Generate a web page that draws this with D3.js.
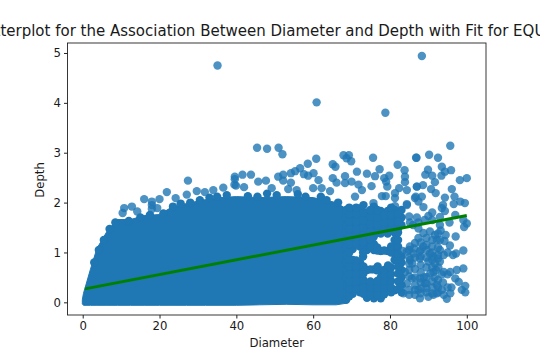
<!DOCTYPE html>
<meta charset="utf-8">
<style type="text/css">

body { margin: 0; background: #fff; }
svg { display: block; }
text { font-family: "DejaVu Sans", sans-serif; fill: #1a1a1a; }

.tick line { stroke: #222; }
.axis .domain { display: none; }

.dot {
    fill: #1f77b4;
    fill-opacity: 0.8;
}

.dense {
    fill: #1f77b4;
}

.mass {
    fill: #1f77b4;
    stroke: #1f77b4;
    stroke-width: 1;
    stroke-linejoin: round;
}

.fit {
    fill: none;
    stroke: #008000;
    stroke-width: 3;
}

</style>
<body>
</body>

<script src="https://d3js.org/d3.v7.min.js"></script>
<script>

var titleText = "Scatterplot for the Association Between Diameter and Depth with Fit for EQUATOR"
  , xLabel = "Diameter"
  , yLabel = "Depth";

var xTicks = [0, 20, 40, 60, 80, 100]
  , yTicks = [0, 1, 2, 3, 4, 5];

// the saturated part of the cloud, too many overlapping craters to read one by one:
// read as an outline, top and bottom depth at each diameter
var massDiameter = [-0.1, 0.2, 2, 3.7, 6.3, 9, 12.5, 16, 20, 23, 27, 32, 36, 40, 46, 53, 60, 66, 68.5];
var massTop = [0.05, 0.18, 0.66, 1.08, 1.42, 1.66, 1.66, 1.74, 1.76, 1.9, 1.98, 2.06, 2.1, 2.12, 2.1, 2.12, 2.1, 2.0, 1.88];
var massBottom = [-0.03, -0.06, -0.06, -0.06, -0.06, -0.06, -0.06, -0.06, -0.06, -0.06, -0.06, -0.06, -0.06, -0.06, -0.05, -0.04, -0.05, -0.05, -0.02];

// where the cloud is nearly solid but still has holes: placed to leave the holes open,
// overlap there reads as full colour so these are drawn opaque
var denseDiameter = [
    68.6, 68.6, 68.6, 68.6, 68.6, 68.6, 68.6, 68.6, 68.6, 68.6, 68.6, 68.6, 68.6,
    70.3, 70.3, 70.3, 70.3, 70.3, 70.3, 70.3, 70.3, 70.3, 70.3, 70.3, 70.3,
    72.2, 72.2, 72.2, 72.2, 72.2, 72.2, 72.2, 72.2, 72.2, 72.2, 72.2,
    74, 74, 74, 74, 74, 74, 74, 74, 74, 74,
    75.8, 75.8, 75.8, 75.8, 75.8, 75.8, 75.8, 75.8, 75.8, 75.8, 75.8,
    77.6, 77.6, 77.6, 77.6, 77.6, 77.6, 77.6, 77.6, 77.6, 77.6,
    79.4, 79.4, 79.4, 79.4, 79.4, 79.4, 79.4, 79.4, 79.4,
    81.2, 81.2, 81.2, 81.2, 81.2, 81.2, 81.2, 81.2, 81.2,
    83, 83, 83, 83, 83, 83, 83, 83, 83,
    69.4, 69.4, 69.4, 69.4, 69.4, 69.4, 69.4, 69.4, 69.4, 69.4, 69.4, 69.4, 69.4,
    71.2, 71.2, 71.2, 71.2, 71.2, 71.2, 71.2, 71.2, 71.2, 71.2, 71.2,
    73.1, 73.1, 73.1, 73.1, 73.1, 73.1, 73.1, 73.1, 73.1, 73.1, 73.1, 73.1,
    74.9, 74.9, 74.9, 74.9, 74.9, 74.9, 74.9, 74.9, 74.9, 74.9,
    76.7, 76.7, 76.7, 76.7, 76.7, 76.7, 76.7, 76.7, 76.7, 76.7,
    78.5, 78.5, 78.5, 78.5, 78.5, 78.5, 78.5, 78.5, 78.5,
    80.3, 80.3, 80.3, 80.3, 80.3, 80.3, 80.3, 80.3, 80.3, 80.3, 80.3,
    82.1, 82.1, 82.1, 82.1, 82.1, 82.1, 82.1, 82.1, 82.1, 82.1, 82.1, 82.1,
    73, 73, 76.8, 79.5,
    3, 4.2, 5.5, 7, 8.5, 12, 15, 17.5, 21, 23.5, 25.5, 28, 30.5, 33, 35, 37.5,
    43, 45.5, 48, 50.5, 56, 58, 62, 63.5, 66.5
];
var denseDepth = [
    0.05, 0.2, 0.35, 0.5, 0.65, 0.8, 0.95, 1.1, 1.25, 1.4, 1.55, 1.7, 1.85,
    0.17, 0.3, 0.45, 0.6, 0.75, 0.85, 1.07, 1.25, 1.4, 1.55, 1.7, 1.82,
    0.2, 0.35, 0.5, 0.65, 0.8, 1.12, 1.27, 1.42, 1.57, 1.72, 1.88,
    0.09, 0.25, 0.38, 0.65, 1.05, 1.2, 1.35, 1.5, 1.65, 1.8,
    0.08, 0.22, 0.36, 0.66, 1.05, 1.17, 1.32, 1.47, 1.62, 1.77, 1.92,
    0.08, 0.22, 0.36, 0.5, 0.63, 1.03, 1.38, 1.53, 1.68, 1.83,
    0.23, 0.37, 0.5, 0.63, 1.03, 1.38, 1.53, 1.68, 1.83,
    0.24, 0.85, 0.98, 1.1, 1.25, 1.4, 1.55, 1.7, 1.85,
    0.2, 0.35, 0.5, 0.65, 0.8, 0.92, 1.55, 1.7, 1.85,
    0.12, 0.27, 0.42, 0.57, 0.72, 0.87, 1.0, 1.17, 1.32, 1.47, 1.62, 1.77, 1.9,
    0.27, 0.42, 0.57, 0.72, 0.84, 1.17, 1.32, 1.47, 1.62, 1.77, 1.9,
    0.17, 0.3, 0.45, 0.58, 0.72, 1.1, 1.2, 1.35, 1.5, 1.65, 1.8, 1.95,
    0.15, 0.3, 0.42, 0.66, 1.12, 1.27, 1.42, 1.57, 1.72, 1.85,
    0.15, 0.29, 0.43, 0.64, 1.04, 1.1, 1.4, 1.55, 1.7, 1.85,
    0.16, 0.3, 0.44, 0.57, 0.65, 1.04, 1.45, 1.6, 1.75,
    0.2, 0.3, 0.43, 0.56, 0.7, 1.0, 1.12, 1.46, 1.6, 1.75, 1.9,
    0.27, 0.42, 0.58, 0.72, 0.86, 0.98, 1.12, 1.25, 1.4, 1.48, 1.62, 1.78,
    0.92, 1.0, 0.72, 0.74,
    0.8, 1.05, 1.25, 1.47, 1.6, 1.63, 1.7, 1.75, 1.78, 1.92, 1.98, 2.0, 2.05, 2.1, 2.12, 2.15,
    2.13, 2.12, 2.18, 2.15, 2.17, 2.12, 2.12, 2.05, 2.0
];

// craters read individually, position by position in the two arrays
var diameter = [
    35.1, 88.3, 60.9, 78.8, 95.7,
    45.4, 48, 51, 52, 60.8, 58.6, 65.1, 65.8, 56.6, 55.3, 54.2, 60.1, 57.6, 58.7, 52.2, 50.9,
    43.8, 41.6, 39.6, 39.6, 61.4, 65.1, 66.1, 52.2, 54.2, 47.7, 45.7, 39.9, 55.7, 53.5, 64.4, 49.2, 42, 60, 62.2,
    27.4, 21.9, 16, 12.8, 10.8, 10.4, 14.2, 18, 18, 18, 20, 19.4, 24.2, 27.1, 29.7, 31.8, 34, 36.6, 39.5,
    67.9, 69.3, 68.7, 69.9, 75.6, 86.8, 82, 83.8, 77.3, 71.4, 74, 76.1, 79.8, 78.5, 79, 83.9, 83.9, 68.3, 70, 68.3,
    71.8, 75.2, 79.3, 87, 82.4, 84.4, 81.3, 72.7, 77.9, 78.9, 81.3, 86.5, 88.3, 84.4, 81.3, 75.7, 70.9,
    86.9, 90.2, 92.5, 93.5, 89.9, 95.9, 94.3, 93.4, 89.2, 91, 100, 98.2, 91.7, 88.6, 87, 96.1, 90.7, 91.9, 86.7,
    94.3, 96.8, 98.3, 99.5, 96.6, 93.8, 93.5, 94.3, 91, 88.7, 87.4, 84.4, 90, 93, 97,
    99.1, 100, 99.3, 97.1, 99.1, 97.2, 96.4, 95.6, 94.2, 93, 93.2, 91.7, 90.4, 88.7, 87.4, 89.5, 92.2, 86.5, 85.2,
    88.7, 87.8, 90.4, 91.3, 86.1, 84.4, 83.3, 85.2, 87.8, 90, 91.7, 91.3, 99.1, 97.4, 95.7, 94, 93.5, 95, 86.5, 83.9,
    97, 97.9, 99.6, 98.7, 99.6, 95.7, 94.8, 93.5, 92.2, 91.3, 90, 87.8, 87.4, 87.8, 89.5, 89.1, 86.5, 84.4, 83.5, 83.1, 85.7, 92.2,
    85, 87, 89, 91, 93, 95.5, 85.2, 86, 87.4, 87.4,
    85, 85, 85, 85, 85, 85, 85,
    86.5, 86.5, 86.5, 86.5,
    88, 88, 88, 88, 88, 88, 88, 88,
    89.5, 89.5, 89.5, 89.5, 89.5, 89.5,
    91, 91, 91, 91, 91, 91, 91,
    92.5, 92.5, 92.5, 92.5, 92.5, 92.5, 92.5,
    85.8, 86.3, 88.8, 90.5, 92, 91.6, 89.5, 91, 92.6, 93, 94, 95, 94.5, 93, 96, 93.8, 95, 94
];
var depth = [
    4.75, 4.94, 4.01, 3.8, 3.14,
    3.1, 3.08, 3.1, 2.97, 2.88, 2.78, 2.77, 2.72, 2.69, 2.63, 2.59, 2.59, 2.57, 2.54, 2.56, 2.52,
    2.56, 2.56, 2.52, 2.47, 2.45, 2.49, 2.4, 2.44, 2.4, 2.44, 2.42, 2.34, 2.25, 2.27, 2.23, 2.29, 2.31, 2.29, 2.29,
    2.44, 2.21, 2.07, 1.92, 1.89, 1.79, 1.82, 2.02, 1.95, 1.87, 2.07, 1.89, 2.09, 2.16, 2.23, 2.21, 2.25, 2.3, 2.36,
    2.95, 2.95, 2.89, 2.83, 2.9, 2.9, 2.76, 2.65, 2.67, 2.62, 2.58, 2.53, 2.54, 2.49, 2.42, 2.52, 2.41, 2.53, 2.42, 2.39,
    2.36, 2.33, 2.32, 2.32, 2.29, 2.25, 2.19, 2.25, 2.13, 2.13, 2.09, 2.09, 2.12, 1.97, 1.93, 1.99, 2.12,
    2.9, 2.96, 2.9, 2.72, 2.66, 2.65, 2.62, 2.54, 2.56, 2.54, 2.49, 2.45, 2.41, 2.35, 2.32, 2.27, 2.27, 2.19, 2.12,
    2.1, 2.12, 2.02, 1.99, 1.97, 1.95, 1.89, 1.83, 1.8, 1.91, 2.02, 1.95, 1.73, 1.71, 1.75,
    1.65, 1.58, 1.51, 1.32, 1.04, 0.98, 0.95, 1.14, 1.23, 1.05, 1.44, 1.35, 1.42, 1.39, 1.29, 1.29, 1.25, 1.19, 1.12,
    1.12, 1.02, 0.98, 0.92, 0.98, 1.02, 1.03, 0.85, 0.88, 0.82, 0.78, 0.61, 0.68, 0.65, 0.61, 0.61, 0.56, 0.56, 0.67, 0.61,
    0.48, 0.41, 0.33, 0.25, 0.2, 0.18, 0.07, 0.25, 0.35, 0.15, 0.11, 0.08, 0.25, 0.48, 0.51, 0.38, 0.35, 0.38, 0.18, 0.31, 0.48, 0.18,
    1.72, 1.7, 1.65, 1.65, 1.55, 1.6, 1.6, 1.55, 1.6, 1.48,
    0.15, 0.25, 0.52, 0.65, 0.78, 0.9, 1.05,
    0.15, 0.25, 0.5, 0.9,
    0.18, 0.28, 0.4, 0.6, 0.75, 0.92, 1.05, 1.2,
    0.2, 0.28, 0.7, 0.9, 1.05, 1.15,
    0.3, 0.42, 0.7, 0.85, 1.0, 1.12, 1.25,
    0.2, 0.3, 0.45, 0.88, 0.95, 1.1, 1.38,
    0.78, 1.08, 0.5, 0.58, 0.65, 0.5, 0.38, 0.18, 0.7, 0.82, 0.95, 1.0, 1.35, 1.25, 0.3, 0.4, 0.3, 0.15
];

// the fit line, read at its two ends
var fitDiameter = [0.6, 100];
var fitDepth = [0.27, 1.74];

var left = 67.5, right = 486, top_ = 43, bottom = 315;

var xScale = d3.scaleLinear()
    .domain([-3.96, 105])
    .range([left, right]);

var yScale = d3.scaleLinear()
    .domain([-0.254, 5.2])
    .range([bottom, top_]);

var svg = d3.select("body").append("svg")
    .attr("width", 540)
    .attr("height", 360);

// ticks first, cloud on top
svg.append("g")
    .attr("class", "x axis")
    .attr("transform", "translate(0," + bottom + ")")
    .call(d3.axisBottom(xScale).tickValues(xTicks).tickSize(3.5).tickPadding(3))
    .selectAll("text").style("font-size", "11.7px").style("fill", "#1a1a1a");

svg.append("g")
    .attr("class", "y axis")
    .attr("transform", "translate(" + left + ",0)")
    .call(d3.axisLeft(yScale).tickValues(yTicks).tickFormat(d3.format("d")).tickSize(3.5).tickPadding(3))
    .selectAll("text").style("font-size", "11.7px").style("fill", "#1a1a1a");

var area = d3.area()
    .x(function(d) { return xScale(massDiameter[d]); })
    .y0(function(d) { return yScale(massBottom[d]); })
    .y1(function(d) { return yScale(massTop[d]); });

svg.append("path")
    .attr("class", "mass")
    .attr("d", area(d3.range(massDiameter.length)));

svg.selectAll(".dense")
    .data(denseDiameter)
  .enter().append("circle")
    .attr("class", "dense")
    .attr("cx", function(d) { return xScale(d); })
    .attr("cy", function(d, i) { return yScale(denseDepth[i]); })
    .attr("r", 4.2);

svg.selectAll(".dot")
    .data(diameter)
  .enter().append("circle")
    .attr("class", "dot")
    .attr("cx", function(d) { return xScale(d); })
    .attr("cy", function(d, i) { return yScale(depth[i]); })
    .attr("r", 4.2);

var line = d3.line()
    .x(function(d) { return xScale(fitDiameter[d]); })
    .y(function(d) { return yScale(fitDepth[d]); });

svg.append("path")
    .attr("class", "fit")
    .attr("d", line(d3.range(fitDiameter.length)));

// spines
svg.append("rect")
    .attr("x", left)
    .attr("y", top_)
    .attr("width", right - left)
    .attr("height", bottom - top_)
    .attr("fill", "none")
    .attr("stroke", "#222")
    .attr("stroke-width", 0.9);

svg.append("text")
    .attr("x", 276.7)
    .attr("y", 36)
    .attr("text-anchor", "middle")
    .style("font-size", "15px")
    .text(titleText);

svg.append("text")
    .attr("x", (left + right) / 2)
    .attr("y", 347)
    .attr("text-anchor", "middle")
    .style("font-size", "11.7px")
    .text(xLabel);

svg.append("text")
    .attr("transform", "translate(44,180) rotate(-90)")
    .attr("text-anchor", "middle")
    .style("font-size", "11.7px")
    .text(yLabel);

</script>
